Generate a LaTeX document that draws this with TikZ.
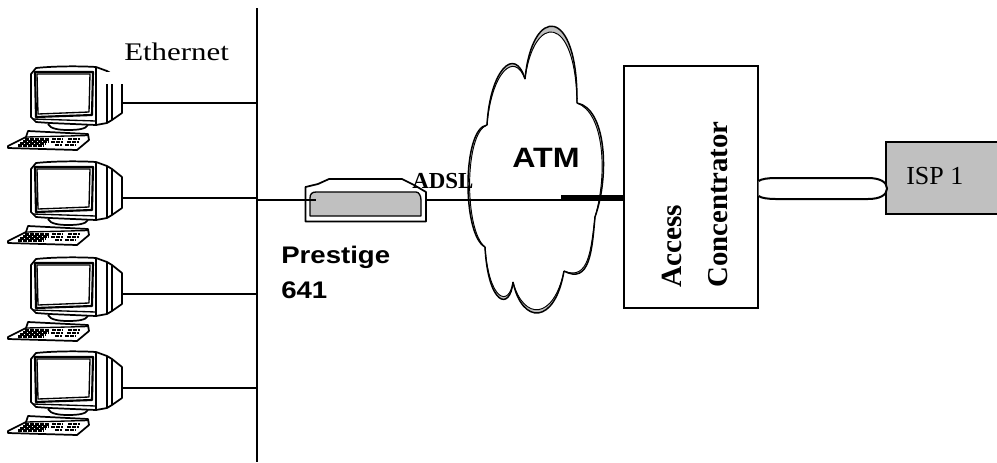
\documentclass[tikz,border=0pt]{standalone}
\usepackage{fontspec}
\setmainfont{Liberation Serif}
\newfontfamily\arialf{Liberation Sans}
\usetikzlibrary{calc}
\definecolor{boxgrey}{HTML}{C0C0C0}
\newcommand{\cloudlobe}[4]{%
  \fill[boxgrey] (#1) .. controls (#2) and (#3) .. (#4)
     .. controls ($(#3)!.09!($(#1)!.5!(#4)$)$) and ($(#2)!.09!($(#1)!.5!(#4)$)$) .. (#1) -- cycle;
  \draw[cloudline,line width=.7pt] (#1) .. controls ($(#2)!.09!($(#1)!.5!(#4)$)$) and ($(#3)!.09!($(#1)!.5!(#4)$)$) .. (#4);
  \draw[cloudline] (#1) .. controls (#2) and (#3) .. (#4);
}
\tikzset{
  wire/.style={line width=1.4pt,black},
  thin wire/.style={line width=1.1pt,black},
  cloudline/.style={line width=1.1pt,black},
  pcline/.style={line width=1pt,black,line join=round},
  keys/.style={line width=1.6pt,black,dash pattern=on 1.4pt off .45pt},
  labelserif/.style={inner sep=0pt,font=\fontsize{19pt}{22pt}\selectfont},
  labelsans/.style={inner sep=0pt,align=left,font=\arialf\bfseries\fontsize{18pt}{26.5pt}\selectfont},
  computer/.pic={
    \draw[pcline,line width=1.3pt,fill=white] (31,14) -- (36,8) .. controls (55,6) and (80,6) .. (96,7)
       -- (107,11) -- (112,14) -- (122,22) -- (122,53) -- (112,60) -- (107,63) -- (96,65)
       -- (50,63) -- (36,62) -- (31,57) -- cycle;
    \draw[pcline,line width=1.6pt] (35,12) -- (93,12) -- (92,55) -- (36,57) -- cycle;
    \draw[pcline] (37,14) -- (90,14) -- (89,52) -- (38,54) -- cycle;
    \draw[pcline] (33,59) -- (96,61);
    \draw[pcline,line width=1.3pt] (96,7) -- (96,65);
    \draw[pcline] (107,11) -- (107,63);
    \draw[pcline] (112,14) -- (112,60);
    \draw[pcline,line width=1.3pt] (48,64) .. controls (50,69) and (60,70) .. (68,70) .. controls (78,70) and (86,69) .. (88,65);
    \draw[pcline,line width=1.3pt,fill=white] (8,86) -- (26,77) -- (28,71) -- (88,74) -- (89,80) -- (77,90) -- (8,88) -- cycle;
    \draw[pcline] (26,77) -- (88,75.5);
    \foreach \yy/\xa/\xb in {79.5/25/49,81.5/23/48,83.5/20/46,85.5/18/44}{
      \draw[keys] (\xa,\yy) -- (\xb,\yy);}
    \draw[keys] (52,79) -- (63,79); \draw[keys] (51,82) -- (63,82);
    \draw[keys] (55,85) -- (62,85);
    \draw[keys] (68,79) -- (80,79); \draw[keys] (67,82) -- (79,82); \draw[keys] (65,85) -- (76,85);
    \coordinate (-port) at (122,43);
  }
}
\begin{document}
\begin{tikzpicture}[x=.75pt,y=-.75pt]
\useasboundingbox (0,0) rectangle (997,462);
% computers
\pic (pca) at (0,60) {computer};
\fill[white] (104,72) rectangle (125,83.5);
\pic (pcb) at (0,155) {computer};
\pic (pcc) at (0,251) {computer};
\pic (pcd) at (0,345) {computer};
% Ethernet bus
\coordinate (bustop) at (257,8);
\coordinate (busbot) at (257,462);
\draw[thin wire] (bustop) -- (busbot);
\foreach \p in {pca,pcb,pcc,pcd}{
  \draw[thin wire] (\p-port) -- (\p-port -| bustop);
}
\node[labelserif,anchor=west] (eth) at (124,52) {\scalebox{1.22}[1]{Ethernet}};
% cloud
\fill[white] (525,79) .. controls (532,5) and (578,5) .. (577,103)
  .. controls (606,108) and (610,175) .. (595,217)
  .. controls (592,250) and (590,285) .. (564,271)
  .. controls (555,325) and (522,325) .. (513,282)
  .. controls (510,312) and (488,305) .. (485,247)
  .. controls (462,235) and (462,128) .. (487,125)
  .. controls (490,70) and (515,45) .. (525,79) -- cycle;
\coordinate (linkmid) at (561,200);
% router
\node[inner sep=0pt,minimum size=0pt] (router) at (366,200) {};
\draw[line width=1.3pt,fill=white,line join=round] (305.5,221.5) -- (305.5,187) -- (318,184) -- (329,179) -- (402,179) -- (414,185) -- (426,192) -- (426,221.5) -- cycle;
\draw[line width=1pt,fill=boxgrey,line join=round] (310,216) -- (310,198) .. controls (310,194) and (312,192) .. (316,192) -- (416,192) .. controls (419,192) and (421,196) .. (421,200) -- (421,216) -- cycle;
\coordinate (routerL) at (316,200);
\coordinate (routerR) at (427,200);
\draw[thin wire] (routerL -| bustop) -- (routerL);
\cloudlobe{525,79}{532,5}{578,5}{577,103}
\cloudlobe{487,125}{490,70}{515,45}{525,79}
\cloudlobe{485,247}{462,235}{462,128}{487,125}
\cloudlobe{513,282}{510,312}{488,305}{485,247}
\cloudlobe{564,271}{555,325}{522,325}{513,282}
\cloudlobe{595,217}{592,250}{590,285}{564,271}
\cloudlobe{577,103}{606,108}{610,175}{595,217}
\node[inner sep=0pt,font=\arialf\bfseries\fontsize{21pt}{24pt}\selectfont] (atm) at (546,158) {\scalebox{1.15}[1]{ATM}};
% access concentrator
\node[draw,line width=1.3pt,fill=white,minimum width=100.5pt,minimum height=181.5pt,inner sep=0pt,anchor=north west] (ac) at (623,65) {};
\node[inner sep=0pt,rotate=90,anchor=west,font=\bfseries\fontsize{22pt}{24pt}\selectfont] (acc) at (672,288) {Access};
\node[inner sep=0pt,rotate=90,anchor=west,font=\bfseries\fontsize{21.6pt}{24pt}\selectfont] (con) at (718,288) {Concentrator};
% links
\draw[line width=2.2pt] (routerR) -- (linkmid);
\draw[line width=2.2pt] (linkmid) -- (linkmid -| ac.west);
\draw[line width=4.4pt] (561,198.3) -- (561,198.3 -| ac.west);
\node[inner sep=0pt,anchor=west,font=\bfseries\fontsize{17.2pt}{20pt}\selectfont] (adsl) at (412,181.5) {ADSL};
% ISP
\node[draw,line width=1.2pt,fill=boxgrey,minimum width=90pt,minimum height=54pt,inner sep=0pt,anchor=north west] (isp) at (885,141) {};
\node[inner sep=0pt,anchor=west,font=\fontsize{19.5pt}{22pt}\selectfont] (isplabel) at (906,176) {ISP 1};
\draw[line width=1.5pt,fill=white] (ac.east |- 0,181) .. controls (761,179) and (768,178) .. (776,178) -- (868,178)
  .. controls (880,178) and (887,182) .. (887,188.5) .. controls (887,195) and (880,199) .. (868,199)
  -- (776,199) .. controls (768,199) and (761,198) .. (ac.east |- 0,196);
% Prestige label
\node[labelsans,anchor=north west] (prestige) at (281,246) {\scalebox{1.15}[1]{Prestige}\\\scalebox{1.15}[1]{641}};
\end{tikzpicture}
\end{document}
